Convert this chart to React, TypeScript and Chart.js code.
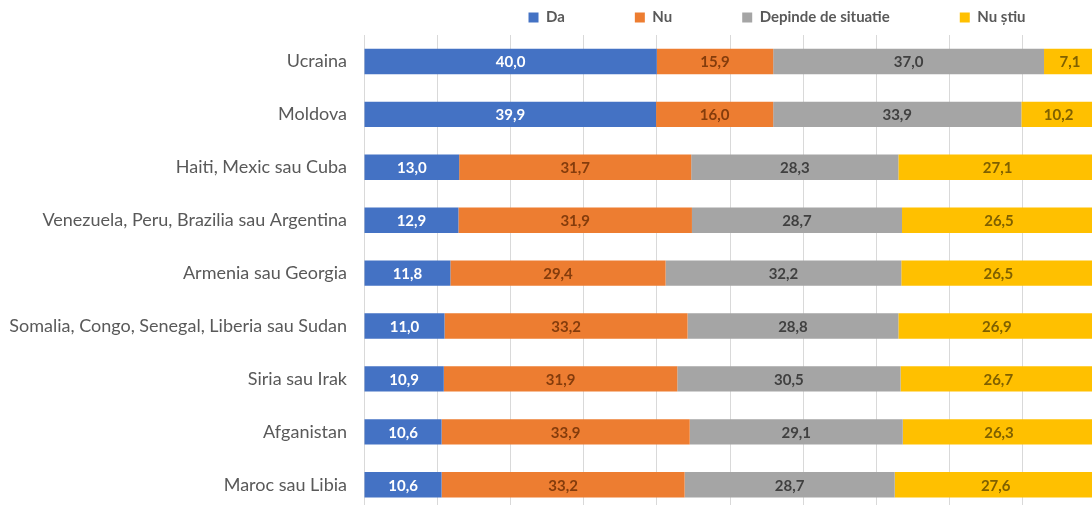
import React, { useEffect, useRef } from "react";
import { Chart, registerables } from "chart.js";

Chart.register(...registerables);

const categories = [
  "Ucraina",
  "Moldova",
  "Haiti, Mexic sau Cuba",
  "Venezuela, Peru, Brazilia sau Argentina",
  "Armenia sau Georgia",
  "Somalia, Congo, Senegal, Liberia sau Sudan",
  "Siria sau Irak",
  "Afganistan",
  "Maroc sau Libia",
];

const seriesNames = ["Da", "Nu", "Depinde de situatie", "Nu știu"];
const da = [40.0, 39.9, 13.0, 12.9, 11.8, 11.0, 10.9, 10.6, 10.6];
const nu = [15.9, 16.0, 31.7, 31.9, 29.4, 33.2, 31.9, 33.9, 33.2];
const depinde = [37.0, 33.9, 28.3, 28.7, 32.2, 28.8, 30.5, 29.1, 28.7];
const nuStiu = [7.1, 10.2, 27.1, 26.5, 26.5, 26.9, 26.7, 26.3, 27.6];

const barColors = ["#4472C4", "#ED7D31", "#A5A5A5", "#FFC000"];
const labelColors = ["#FFFFFF", "#843C0C", "#404040", "#7F6000"];

const FONT = "Lato, 'Open Sans', sans-serif";
const LEGEND_PAD = 70;

const valueLabels = {
  id: "valueLabels",
  afterDatasetsDraw(chart: any) {
    const ctx = chart.ctx;
    ctx.save();
    ctx.font = `bold 15px ${FONT}`;
    ctx.textAlign = "center";
    ctx.textBaseline = "middle";
    chart.data.datasets.forEach((ds: any, di: number) => {
      const meta = chart.getDatasetMeta(di);
      meta.data.forEach((bar: any, i: number) => {
        const v = ds.data[i];
        const cx = (bar.x + bar.base) / 2;
        ctx.fillStyle = labelColors[di];
        ctx.fillText(v.toFixed(1).replace(".", ","), cx, bar.y + 1);
      });
    });
    ctx.restore();
  },
};

const legendShift = {
  id: "legendShift",
  afterLayout(chart: any) {
    const lg = chart.legend;
    if (!lg) return;
    const area = chart.chartArea;
    // centre the legend row over a point slightly right of the plot centre
    const centre = (area.left + area.right) / 2 + 47;
    lg.left = centre - 400;
    lg.right = centre + 400;
    lg.top = lg.top - (LEGEND_PAD - 10);
  },
};

export default function App() {
  const ref = useRef<HTMLCanvasElement | null>(null);
  useEffect(() => {
    if (!ref.current) return;
    const datasets = [da, nu, depinde, nuStiu].map((d, i) => ({
      label: seriesNames[i],
      data: d,
      backgroundColor: barColors[i],
      borderColor: "#FFFFFF",
      borderWidth: 0,
      barPercentage: 0.48,
      categoryPercentage: 1.0,
    }));
    const chart = new Chart(ref.current, {
      type: "bar",
      data: { labels: categories, datasets },
      options: {
        indexAxis: "y",
        animation: false,
        responsive: false,
        maintainAspectRatio: false,
        layout: { padding: 0 },
        scales: {
          x: {
            stacked: true,
            min: 0,
            max: 100,
            ticks: { display: false, stepSize: 10 },
            grid: { color: "#D9D9D9", drawTicks: false, lineWidth: 1 },
            border: { display: false },
            afterFit(scale: any) {
              scale.height = 0;
            },
          },
          y: {
            stacked: true,
            grid: { display: false, drawTicks: false },
            border: { display: false },
            ticks: {
              color: "#595959",
              font: { family: FONT, size: 18 },
              padding: 17,
            },
            afterFit(scale: any) {
              scale.width = 364;
            },
          },
        },
        plugins: {
          legend: {
            position: "top",
            maxHeight: 35,
            labels: {
              boxWidth: 10,
              boxHeight: 10,
              padding: LEGEND_PAD,
              color: "#595959",
              font: { family: FONT, size: 15, weight: "bold" },
            },
          },
          tooltip: { enabled: false },
        },
      },
      plugins: [valueLabels, legendShift],
    });
    return () => chart.destroy();
  }, []);
  return (
    <div style={{ position: "fixed", left: 0, top: 0, right: 0, bottom: 0, overflow: "hidden", background: "#fff" }}>
      <canvas ref={ref} width={1096} height={539} style={{ display: "block" }} />
    </div>
  );
}
